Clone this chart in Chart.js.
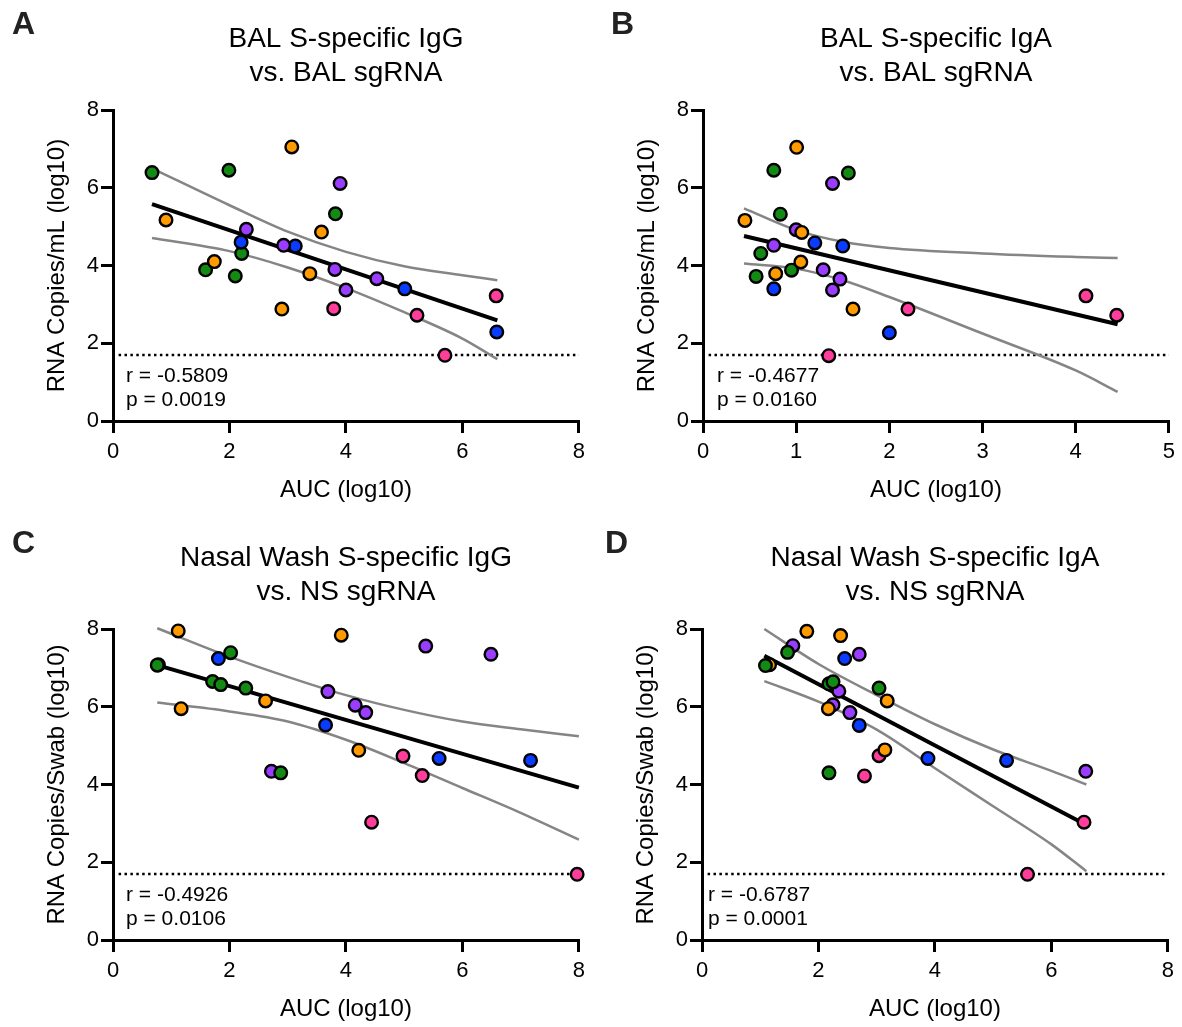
<!DOCTYPE html>
<html>
<head>
<meta charset="UTF-8">
<title>S-specific antibody vs sgRNA</title>
<style>
    body {
        margin: 0;
        background: #fff;
        font-family: 'Liberation Sans', Arial, sans-serif;
    }
    .panel {
        position: absolute;
        width: 591px;
        height: 508px;
    }
</style>
</head>
<body>
<div class="panel" style="left:0px;top:0px"><canvas id="chartA" width="591" height="508"></canvas></div>
<div class="panel" style="left:590px;top:0px"><canvas id="chartB" width="591" height="508"></canvas></div>
<div class="panel" style="left:0px;top:519px"><canvas id="chartC" width="591" height="508"></canvas></div>
<div class="panel" style="left:589px;top:519px"><canvas id="chartD" width="591" height="508"></canvas></div>

<script src="https://cdn.jsdelivr.net/npm/chart.js"></script>
<script>
// animal groups: G green, B blue, O orange, P purple, K pink
const groupColors = { G: '#138a13', B: '#0a3cff', O: '#ff9a00', P: '#9b3dff', K: '#ff3d9a' };
const lodLevel = 1.7;

// ---- A: BAL IgG vs BAL sgRNA ----
const aucA = [0.67, 1.99, 3.82, 2.21, 1.59, 2.10,
              2.20, 3.13, 5.01, 6.59,
              0.91, 3.07, 3.58, 1.74, 3.38, 2.90,
              3.90, 2.29, 2.93, 3.81, 4.53, 4.00,
              3.79, 5.22, 6.58, 5.70];
const rnaA = [6.39, 6.45, 5.33, 4.31, 3.89, 3.73,
              4.60, 4.50, 3.40, 2.29,
              5.17, 7.05, 4.86, 4.10, 3.79, 2.88,
              6.11, 4.93, 4.52, 3.90, 3.66, 3.37,
              2.89, 2.72, 3.22, 1.69];
const grpA = ['G','G','G','G','G','G','B','B','B','B','O','O','O','O','O','O',
              'P','P','P','P','P','P','K','K','K','K'];
const fitXA = [0.67, 6.6];
const fitYA = [5.58, 2.59];
const bandXA = [0.67, 2, 3, 4, 5, 6, 6.6];
const upperA = [6.50, 5.55, 4.87, 4.35, 3.98, 3.75, 3.62];
const lowerA = [4.71, 4.37, 3.95, 3.42, 2.80, 2.12, 1.59];

// ---- B: BAL IgA vs BAL sgRNA ----
const aucB = [0.76, 1.56, 0.83, 0.62, 0.95, 0.57,
              1.20, 1.50, 0.76, 2.00,
              1.39, 1.00, 0.76, 1.29, 1.47, 1.39,
              1.005, 0.45, 1.06, 1.05, 0.78, 1.61,
              2.20, 1.35, 4.11, 4.44];
const rnaB = [6.45, 6.38, 5.32, 4.31, 3.88, 3.72,
              4.58, 4.50, 3.40, 2.27,
              6.11, 4.92, 4.52, 3.89, 3.65, 3.37,
              7.04, 5.16, 4.85, 4.09, 3.79, 2.88,
              2.88, 1.68, 3.22, 2.72];
const grpB = ['G','G','G','G','G','G','B','B','B','B','P','P','P','P','P','P',
              'O','O','O','O','O','O','K','K','K','K'];
const fitXB = [0.44, 4.45];
const fitYB = [4.76, 2.49];
const bandXB = [0.44, 1, 1.5, 2, 3, 4, 4.45];
const upperB = [5.47, 4.91, 4.61, 4.45, 4.31, 4.22, 4.19];
const lowerB = [4.05, 3.92, 3.62, 3.19, 2.25, 1.30, 0.75];

// ---- C: Nasal wash IgG vs NS sgRNA ----
const aucC = [0.78, 1.12, 3.92, 2.62, 1.17, 4.22,
              5.37, 6.49, 3.69, 4.16, 4.34, 2.72,
              1.81, 3.65, 5.60, 7.17,
              0.76, 2.02, 1.71, 1.85, 2.28, 2.88,
              4.98, 5.31, 4.44, 7.97];
const rnaC = [7.08, 7.95, 7.84, 6.15, 5.95, 4.88,
              7.56, 7.35, 6.39, 6.04, 5.85, 4.34,
              7.24, 5.53, 4.67, 4.62,
              7.07, 7.39, 6.65, 6.57, 6.48, 4.30,
              4.73, 4.23, 3.03, 1.69];
const grpC = ['O','O','O','O','O','O','P','P','P','P','P','P','B','B','B','B',
              'G','G','G','G','G','G','K','K','K','K'];
const fitXC = [0.76, 8.0];
const fitYC = [7.07, 3.92];
const bandXC = [0.76, 2, 3, 4, 5, 6, 7, 8];
const upperC = [8.02, 7.29, 6.77, 6.30, 5.92, 5.62, 5.42, 5.24];
const lowerC = [6.11, 5.88, 5.62, 5.15, 4.55, 3.91, 3.27, 2.58];

// ---- D: Nasal wash IgA vs NS sgRNA ----
const aucD = [1.56, 2.70, 2.35, 2.25, 2.54, 6.59,
              3.04, 2.79, 6.56, 5.59,
              2.45, 2.70, 3.88, 5.23,
              1.80, 2.38, 1.16, 3.18, 2.17, 3.14,
              1.47, 1.09, 2.18, 2.25, 3.04, 2.18];
const rnaD = [7.57, 7.35, 6.40, 6.05, 5.85, 4.34,
              4.74, 4.22, 3.03, 1.69,
              7.24, 5.52, 4.67, 4.62,
              7.94, 7.83, 7.08, 6.15, 5.95, 4.89,
              7.40, 7.06, 6.59, 6.64, 6.48, 4.30];
const grpD = ['P','P','P','P','P','P','K','K','K','K','B','B','B','B',
              'O','O','O','O','O','O','G','G','G','G','G','G'];
const fitXD = [1.07, 6.6];
const fitYD = [7.31, 2.96];
const bandXD = [1.07, 2, 3, 4, 5, 6, 6.6];
const upperD = [8.0, 7.10, 6.30, 5.55, 4.90, 4.35, 4.00];
const lowerD = [6.66, 6.13, 5.41, 4.42, 3.44, 2.46, 1.77];

const fontFamily = "'Liberation Sans', Arial, sans-serif";

function pairs(xs, ys) {
    return xs.map((v, i) => ({ x: v, y: ys[i] }));
}

// titles, axis labels and stats drawn around the plot area
const panelText = {
    id: 'panelText',
    afterDraw(chart, args, opts) {
        const ctx = chart.ctx;
        const area = chart.chartArea;
        const cx = (area.left + area.right) / 2;
        ctx.save();
        ctx.fillStyle = '#000';
        ctx.textBaseline = 'alphabetic';

        ctx.font = 'bold 32px ' + fontFamily;
        ctx.textAlign = 'left';
        ctx.fillStyle = '#222';
        ctx.fillText(opts.letter, opts.letterX, 34);
        ctx.fillStyle = '#000';

        ctx.font = '28px ' + fontFamily;
        ctx.textAlign = 'center';
        ctx.fillText(opts.title[0], cx, 47);
        ctx.fillText(opts.title[1], cx, 81);

        ctx.font = '24px ' + fontFamily;
        ctx.fillText('AUC (log10)', cx, 497);

        ctx.save();
        ctx.translate(64, (area.top + area.bottom) / 2);
        ctx.rotate(-Math.PI / 2);
        ctx.fillText(opts.yLabel, 0, 0);
        ctx.restore();

        ctx.font = '21px ' + fontFamily;
        ctx.textAlign = 'left';
        ctx.fillText(opts.stats[0], area.left + opts.statsDx, 382);
        ctx.fillText(opts.stats[1], area.left + opts.statsDx, 406);
        ctx.restore();
    }
};

function makePanel(id, p) {
    const axisTicks = { color: '#000', font: { size: 22, family: fontFamily } };
    const axisGrid = { drawOnChartArea: false, drawTicks: true, tickLength: 12,
                       lineWidth: 3, tickWidth: 3, tickColor: '#000', color: '#000' };
    new Chart(document.getElementById(id), {
        type: 'scatter',
        data: {
            datasets: [
                {
                    data: pairs(p.x, p.y),
                    backgroundColor: p.groups.map(g => groupColors[g]),
                    borderColor: '#000',
                    borderWidth: 2.4,
                    pointRadius: 6.3,
                    pointHoverRadius: 6.3,
                    clip: false,
                    order: 0
                },
                {
                    type: 'line',
                    data: pairs(p.fitX, p.fitY),
                    borderColor: '#000',
                    borderWidth: 4,
                    pointRadius: 0,
                    clip: false,
                    order: 1
                },
                {
                    type: 'line',
                    data: pairs(p.bandX, p.upper),
                    borderColor: '#858585',
                    borderWidth: 2.5,
                    pointRadius: 0,
                    cubicInterpolationMode: 'monotone',
                    clip: false,
                    order: 2
                },
                {
                    type: 'line',
                    data: pairs(p.bandX, p.lower),
                    borderColor: '#858585',
                    borderWidth: 2.5,
                    pointRadius: 0,
                    cubicInterpolationMode: 'monotone',
                    clip: false,
                    order: 2
                },
                {
                    type: 'line',
                    data: [{ x: p.xMax * 0.012, y: lodLevel }, { x: p.xMax, y: lodLevel }],
                    borderColor: '#000',
                    borderWidth: 2.5,
                    borderDash: [2.5, 3.4],
                    pointRadius: 0,
                    order: 3
                }
            ]
        },
        options: {
            responsive: false,
            animation: false,
            layout: { padding: { left: 0, top: 110, right: 11, bottom: 0 } },
            plugins: {
                legend: { display: false },
                tooltip: { enabled: false },
                panelText: p.text
            },
            scales: {
                x: {
                    type: 'linear', min: 0, max: p.xMax,
                    ticks: Object.assign({ stepSize: p.xStep, padding: 6 }, axisTicks),
                    grid: axisGrid,
                    border: { color: '#000', width: 3 },
                    afterFit(s) { s.height = 87; }
                },
                y: {
                    type: 'linear', min: 0, max: 8,
                    ticks: Object.assign({ stepSize: 2, padding: 2 }, axisTicks),
                    grid: axisGrid,
                    border: { color: '#000', width: 3 },
                    afterFit(s) { s.width = 113; }
                }
            }
        },
        plugins: [panelText]
    });
}

makePanel('chartA', {
    x: aucA, y: rnaA, groups: grpA, fitX: fitXA, fitY: fitYA,
    bandX: bandXA, upper: upperA, lower: lowerA, xMax: 8, xStep: 2,
    text: { letter: 'A', letterX: 12, title: ['BAL S-specific IgG', 'vs. BAL sgRNA'],
            yLabel: 'RNA Copies/mL (log10)', stats: ['r = -0.5809', 'p = 0.0019'], statsDx: 13 }
});
makePanel('chartB', {
    x: aucB, y: rnaB, groups: grpB, fitX: fitXB, fitY: fitYB,
    bandX: bandXB, upper: upperB, lower: lowerB, xMax: 5, xStep: 1,
    text: { letter: 'B', letterX: 21, title: ['BAL S-specific IgA', 'vs. BAL sgRNA'],
            yLabel: 'RNA Copies/mL (log10)', stats: ['r = -0.4677', 'p = 0.0160'], statsDx: 14 }
});
makePanel('chartC', {
    x: aucC, y: rnaC, groups: grpC, fitX: fitXC, fitY: fitYC,
    bandX: bandXC, upper: upperC, lower: lowerC, xMax: 8, xStep: 2,
    text: { letter: 'C', letterX: 12, title: ['Nasal Wash S-specific IgG', 'vs. NS sgRNA'],
            yLabel: 'RNA Copies/Swab (log10)', stats: ['r = -0.4926', 'p = 0.0106'], statsDx: 13 }
});
makePanel('chartD', {
    x: aucD, y: rnaD, groups: grpD, fitX: fitXD, fitY: fitYD,
    bandX: bandXD, upper: upperD, lower: lowerD, xMax: 8, xStep: 2,
    text: { letter: 'D', letterX: 16, title: ['Nasal Wash S-specific IgA', 'vs. NS sgRNA'],
            yLabel: 'RNA Copies/Swab (log10)', stats: ['r = -0.6787', 'p = 0.0001'], statsDx: 6 }
});
</script>
</body>
</html>
